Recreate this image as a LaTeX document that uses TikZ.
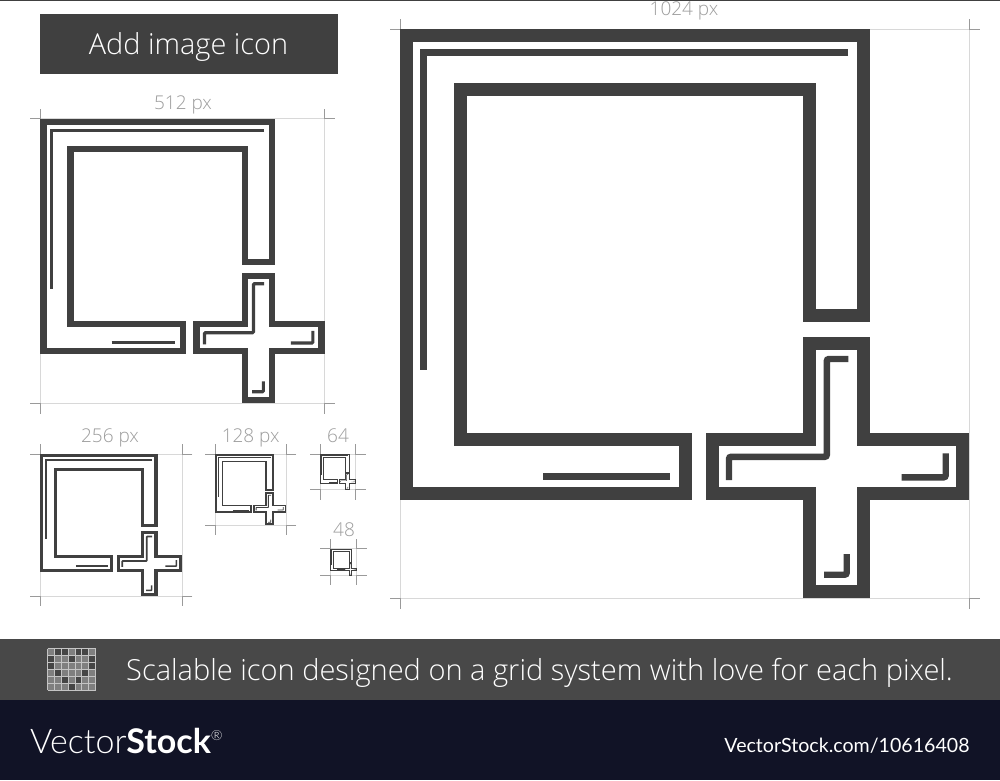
\documentclass[tikz,border=0pt]{standalone}
\usepackage{fontspec}
\setmainfont{Open Sans Light}
\newfontfamily\lightf{Lato Light}
\newfontfamily\regf{Lato}
\newfontfamily\boldf{Lato Bold}
\definecolor{ink}{HTML}{404040}
\definecolor{guide}{HTML}{D8D8D8}
\definecolor{tickc}{HTML}{9A9A9A}
\definecolor{lab}{HTML}{9C9C9C}
\definecolor{band}{HTML}{484848}
\definecolor{navy}{HTML}{111326}
\definecolor{cellc}{HTML}{7F7F7F}
\definecolor{celld}{HTML}{454545}
\definecolor{cellg}{HTML}{C4C4C4}
\tikzset{
  lbl/.style={text=lab,inner sep=0pt,anchor=base,font=\fontsize{19}{20}\selectfont},
  whitetxt/.style={text=white,inner sep=0pt,anchor=base},
  guideline/.style={draw=guide,line width=.8pt},
  tickline/.style={draw=tickc,line width=.7pt},
}
% #1 left, #2 top, #3 scale relative to the large icon
\newcommand{\iconat}[3]{%
\pgfmathsetmacro{\ox}{#1-400*#3}%
\pgfmathsetmacro{\oy}{#2-29*#3}%
\pgfmathsetmacro{\sw}{13*#3}%
\pgfmathsetmacro{\tw}{6.4*#3}%
\pgfmathsetmacro{\rr}{2*#3}%
\pgfmathsetmacro{\rgt}{#1+569.5*#3}%
\pgfmathsetmacro{\btm}{#2+569.5*#3}%
\draw[guideline] (#1,#2) rectangle (\rgt,\btm);
\draw[tickline] (#1-10,#2)--(#1,#2)--(#1,#2-10);
\draw[tickline] (\rgt+10,#2)--(\rgt,#2)--(\rgt,#2-10);
\draw[tickline] (#1-10,\btm)--(#1,\btm)--(#1,\btm+10);
\draw[tickline] (\rgt+10,\btm)--(\rgt,\btm)--(\rgt,\btm+10);
\begin{scope}[shift={(\ox,\oy)},x=#3pt,y=-#3pt,draw=ink,miter limit=10]
\draw[line width=\sw pt] (406.5,35.5)--(863.5,35.5)--(863.5,315.5)--(809.5,315.5)--(809.5,89.5)--(460.5,89.5)--(460.5,439.5)--(685.5,439.5)--(685.5,493.5)--(406.5,493.5)--cycle;
\draw[line width=\sw pt] (809.5,343.2)--(863.5,343.2)--(863.5,439.8)--(962.5,439.8)--(962.5,493.5)--(863.5,493.5)--(863.5,591.2)--(809.5,591.2)--(809.5,493.5)--(712.5,493.5)--(712.5,439.8)--(809.5,439.8)--cycle;
\draw[line width=\tw pt] (848,52.5)--(423.5,52.5)--(423.5,370);
\draw[line width=\tw pt] (543,476.5)--(670,476.5);
\draw[line width=\tw pt,rounded corners=\rr pt] (848.3,359)--(826.8,359)--(826.8,456.8)--(729,456.8)--(729,480);
\draw[line width=\tw pt,rounded corners=\rr pt] (901.7,477.3)--(945.7,477.3)--(945.7,453.3);
\draw[line width=\tw pt,rounded corners=\rr pt] (824,574.7)--(846.7,574.7)--(846.7,554);
\end{scope}}
\begin{document}
\begin{tikzpicture}[x=1pt,y=-1pt]
\useasboundingbox (0,0) rectangle (1000,780);
\fill[white] (0,0) rectangle (1000,780);
\fill[ink] (0,0) rectangle (1000,1);
% title
\fill[ink] (40,14) rectangle (338,74);
\node[whitetxt,font=\fontsize{28.9}{30}\selectfont] (title) at (188.5,54) {Add image icon};
% icons
\iconat{400}{29}{1}
\iconat{40}{118.8}{0.5}
\iconat{40}{454}{0.25}
\iconat{215}{454}{0.125}
\iconat{320}{454}{0.0625}
\iconat{330}{548.5}{0.047}
% labels
\node[lbl] (l1024) at (684,15.5) {1024 px};
\node[lbl] (l512) at (183,109.3) {512 px};
\node[lbl] (l256) at (110,442.7) {256 px};
\node[lbl] (l128) at (250.7,442.7) {128 px};
\node[lbl] (l64) at (338,442.7) {64};
\node[lbl] (l48) at (344,536.7) {48};
% bottom bands
\fill[band] (0,639) rectangle (1000,700);
\fill[navy] (0,700) rectangle (1000,780);
% grid glyph
\fill[cellc] (47.5,648.5) rectangle (95.5,690);
\foreach \c/\r in {1/0,2/0,4/0,5/0,0/1,3/1,6/1,0/2,6/2,1/3,5/3,2/4,4/4,3/5}
  \fill[celld] ({47.5+\c*48/7},{648.5+\r*41.5/6}) rectangle ({47.5+(\c+1)*48/7},{648.5+(\r+1)*41.5/6});
\foreach \c in {0,...,7} \draw[cellg,line width=.6pt] ({47.5+\c*48/7},648.5)--({47.5+\c*48/7},690);
\foreach \r in {0,...,6} \draw[cellg,line width=.6pt] (47.5,{648.5+\r*41.5/6})--(95.5,{648.5+\r*41.5/6});
\node[whitetxt,font=\fontsize{29}{30}\selectfont] (slogan) at (539.5,680) {Scalable icon designed on a grid system with love for each pixel.};
% brand
\node[whitetxt,anchor=base west,font=\lightf\fontsize{34}{36}\selectfont] (logo) at (30,753) {Vector{\boldf Stock}\raisebox{13pt}{\fontsize{14}{14}\selectfont\lightf®}};
\node[whitetxt,font=\regf\fontsize{19.6}{20}\selectfont] (url) at (847,752.7) {VectorStock.com/10616408};
\end{tikzpicture}
\end{document}
